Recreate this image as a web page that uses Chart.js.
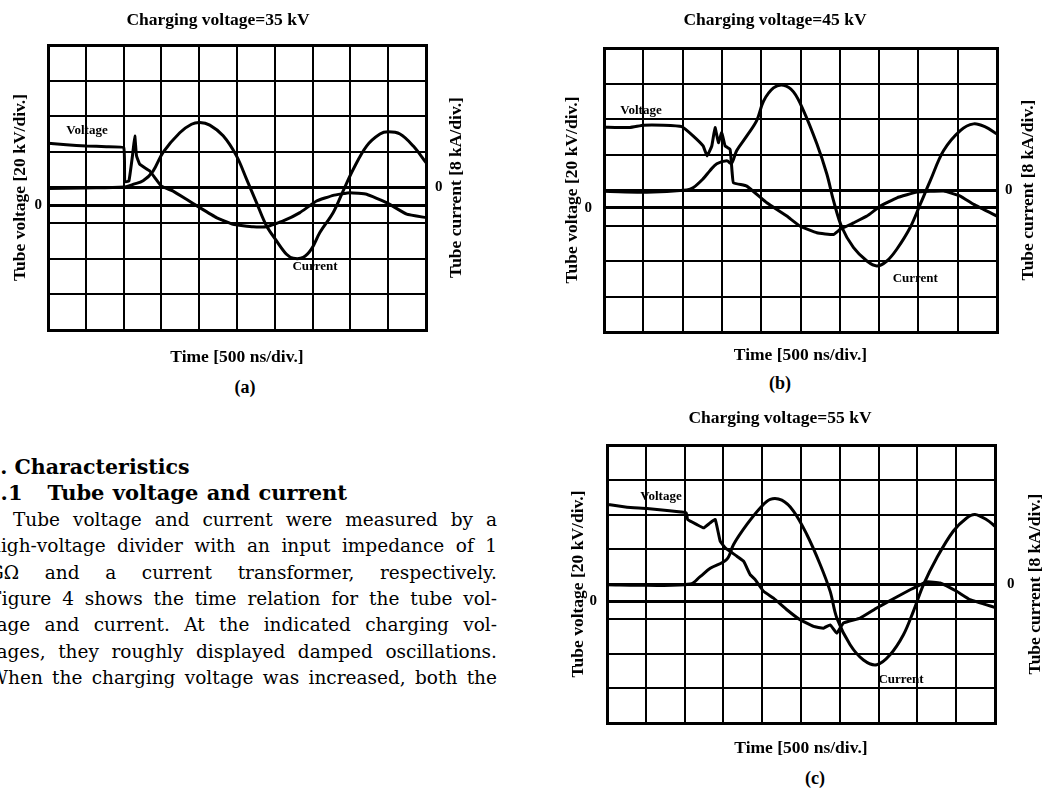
<!DOCTYPE html>
<html>
<head>
<meta charset="utf-8">
<script src="https://cdn.jsdelivr.net/npm/chart.js@4.4.1/dist/chart.umd.min.js"></script>
<style>
  html, body { margin: 0; padding: 0; background: #fff; }
  body { width: 1045px; height: 794px; position: relative; overflow: hidden; }
  canvas { position: absolute; }
  .cap { position: absolute; font: bold 18px 'Liberation Serif'; color: #000; transform: translate(-50%, -50%); }
  #text { position: absolute; left: -11px; top: 454px; width: 508px; font-family: 'DejaVu Serif'; font-size: 18.5px; line-height: 26.4px; color: #000; }
  #text div { text-align: justify; text-align-last: justify; }
  #text .h { font-weight: bold; font-size: 20.5px; text-align: left; text-align-last: left; margin-left: -3px; }
  #text .h2 { font-size: 21px; word-spacing: 1px; }
  #text .p { text-indent: 24px; }
</style>
</head>
<body>
<canvas id="chartA" width="496" height="372" style="left:-30px; top:0px;"></canvas>
<canvas id="chartB" width="524" height="370" style="left:513px; top:0px;"></canvas>
<canvas id="chartC" width="528" height="366" style="left:516px; top:400px;"></canvas>
<div class="cap" style="left:245px; top:387px;">(a)</div>
<div class="cap" style="left:780px; top:383px;">(b)</div>
<div class="cap" style="left:815px; top:778px;">(c)</div>

<div id="text">
  <div class="h">5. Characteristics</div>
  <div class="h h2">5.1&nbsp;&nbsp; Tube voltage and current</div>
  <div class="p">Tube voltage and current were measured by a</div>
  <div>high-voltage divider with an input impedance of 1</div>
  <div>GΩ and a current transformer, respectively.</div>
  <div>Figure 4 shows the time relation for the tube vol-</div>
  <div>tage and current. At the indicated charging vol-</div>
  <div>tages, they roughly displayed damped oscillations.</div>
  <div>When the charging voltage was increased, both the</div>
</div>

<script>
// time in ns (500 ns/div), voltage in kV (20 kV/div), current in kA (8 kA/div)
const voltTimeA = [0, 243, 508, 772, 1002, 1015, 1070, 1117, 1148, 1170, 1214, 1346, 1500, 1655, 1831, 2008, 2228, 2449, 2714, 2890, 3111, 3332, 3552, 3773, 3994, 4214, 4479, 4744, 5000];
const voltA = [34.8, 34.0, 33.3, 32.9, 32.3, 13.3, 13.6, 27.7, 38.9, 28.0, 23.0, 19.3, 10.8, 8.0, 3.4, -1.3, -6.9, -10.7, -12.1, -12.0, -8.8, -4.1, 2.4, 5.6, 7.1, 6.2, 1.5, -5.0, -6.9];
const currTimeA = [0, 463, 1015, 1125, 1258, 1390, 1522, 1743, 1898, 2008, 2140, 2317, 2493, 2626, 2758, 2890, 3023, 3155, 3244, 3376, 3486, 3596, 3773, 3906, 4038, 4214, 4391, 4501, 4656, 4832, 5000];
const currA = [-0.2, -0.1, 0.1, 0.7, 1.5, 3.7, 7.9, 12.3, 14.2, 14.6, 14.0, 11.6, 7.1, 1.9, -3.4, -8.6, -12.0, -15.0, -15.9, -15.7, -13.8, -10.1, -5.6, -0.7, 4.1, 9.3, 12.0, 12.5, 12.0, 9.3, 5.6];

const voltTimeB = [0, 331, 501, 756, 989, 1133, 1261, 1311, 1371, 1413, 1456, 1498, 1541, 1604, 1630, 1647, 1817, 2071, 2326, 2496, 2708, 2920, 3005, 3175, 3345, 3514, 3727, 3981, 4321, 4533, 4703, 5000];
const voltB = [45.4, 45.2, 46.5, 46.5, 45.7, 40.5, 34.8, 29.2, 34.8, 45.2, 36.7, 42.4, 34.8, 32.9, 20.0, 14.1, 12.2, 2.8, -4.7, -10.4, -14.1, -15.1, -12.2, -8.5, -4.7, 0.9, 5.6, 8.8, 9.4, 6.6, 1.9, -4.7];
const currTimeB = [0, 543, 1053, 1133, 1260, 1350, 1435, 1562, 1620, 1689, 1817, 1944, 2029, 2156, 2284, 2411, 2538, 2708, 2835, 2920, 3026, 3175, 3345, 3472, 3599, 3727, 3897, 4024, 4151, 4321, 4533, 4703, 4851, 5000];
const currB = [-0.3, -0.5, 0, 0.5, 2.5, 4.4, 5.9, 6.6, 6.0, 8.9, 12.2, 15.7, 20.0, 23.0, 23.6, 22.1, 17.9, 10.4, 3.6, -2.4, -8.4, -13.0, -16.0, -17.1, -16.0, -13.3, -8.4, -3.2, 2.1, 8.9, 13.4, 14.9, 14.2, 12.6];

const voltTimeC = [0, 258, 515, 773, 1021, 1039, 1159, 1245, 1330, 1395, 1459, 1524, 1674, 1760, 1845, 1910, 2017, 2146, 2318, 2489, 2661, 2790, 2876, 2961, 3047, 3262, 3476, 3691, 3906, 4120, 4292, 4506, 4678, 5000];
const voltC = [55.8, 54.2, 53.5, 52.3, 51.0, 47.1, 44.2, 42.3, 45.2, 47.1, 34.6, 30.8, 26.0, 23.1, 15.4, 12.5, 5.8, 1.9, -4.8, -10.6, -14.4, -15.4, -13.5, -18.3, -12.5, -9.6, -3.8, 1.5, 6.7, 11.2, 10.6, 5.8, 1.0, -3.5];
const currTimeC = [0, 472, 1073, 1200, 1330, 1545, 1631, 1803, 1974, 2103, 2253, 2403, 2575, 2747, 2876, 2961, 3133, 3305, 3476, 3648, 3820, 3948, 4077, 4249, 4464, 4635, 4742, 4893, 5000];
const currC = [-0.2, -0.3, 0, 1.7, 3.6, 5.7, 9.1, 13.7, 17.5, 19.5, 19.3, 16.8, 11.4, 4.5, -1.7, -7.8, -14.0, -17.5, -18.6, -16.3, -11.7, -6.3, -0.2, 6.0, 12.2, 15.2, 16.0, 14.8, 13.3];

const chargeTitles = ['Charging voltage=35 kV', 'Charging voltage=45 kV', 'Charging voltage=55 kV'];
const timeTitle = 'Time [500 ns/div.]';
const voltTitle = 'Tube voltage [20 kV/div.]';
const currTitle = 'Tube current [8 kA/div.]';
const timeRange = [0, 5000];
const voltRange = [-70, 90];
const currRange = [-32, 32];

const serif = 'Liberation Serif';

function pairs(xs, ys) {
    return xs.map((x, i) => ({x: x, y: ys[i]}));
}

// right axis title reads bottom-to-top like the left one
const rightTitle = {
    id: 'rightTitle',
    afterDraw(chart, args, opts) {
        const ctx = chart.ctx;
        const area = chart.chartArea;
        const sc = chart.scales.yI;
        ctx.save();
        ctx.translate(sc.right - opts.offset, (area.top + area.bottom) / 2);
        ctx.rotate(-Math.PI / 2);
        ctx.font = 'bold 17.5px "' + serif + '"';
        ctx.fillStyle = '#000';
        ctx.textAlign = 'center';
        ctx.textBaseline = 'middle';
        ctx.fillText(opts.text, 0, 0);
        ctx.restore();
    }
};

// "Voltage" / "Current" tags next to the traces
const traceTags = {
    id: 'traceTags',
    afterDatasetsDraw(chart, args, opts) {
        const ctx = chart.ctx;
        const sx = chart.scales.x, sy = chart.scales.yI;
        ctx.save();
        ctx.font = 'bold 13px "' + serif + '"';
        ctx.fillStyle = '#000';
        ctx.textAlign = 'center';
        ctx.textBaseline = 'middle';
        opts.items.forEach(it => {
            ctx.fillText(it.text, sx.getPixelForValue(it.t), sy.getPixelForValue(it.i));
        });
        ctx.restore();
    }
};

function makeChart(id, p) {
    const edge = v => (v === timeRange[0] || v === timeRange[1]) ? 3 : 2;
    new Chart(document.getElementById(id), {
        type: 'line',
        data: {
            datasets: [{
                label: 'Voltage',
                data: pairs(p.vt, p.v),
                yAxisID: 'yV',
                borderColor: '#000',
                borderWidth: 3,
                pointRadius: 0,
                tension: 0.1
            }, {
                label: 'Current',
                data: pairs(p.it, p.i),
                yAxisID: 'yI',
                borderColor: '#000',
                borderWidth: 3,
                pointRadius: 0,
                tension: 0.35
            }]
        },
        options: {
            responsive: false,
            animation: false,
            devicePixelRatio: 1,
            layout: {padding: 0},
            plugins: {
                legend: {display: false},
                tooltip: {enabled: false},
                title: {
                    display: true,
                    text: p.title,
                    color: '#000',
                    font: {family: serif, size: 17.5, weight: 'bold'},
                    padding: {top: p.tTop, bottom: p.tBot}
                },
                rightTitle: {text: currTitle, offset: p.rOff},
                traceTags: {items: p.tags}
            },
            scales: {
                x: {
                    type: 'linear',
                    min: timeRange[0], max: timeRange[1],
                    ticks: {stepSize: 500, autoSkip: false, callback: () => ''},
                    grid: {color: '#000', lineWidth: ctx => edge(ctx.tick.value), drawTicks: false},
                    border: {color: '#000', width: 3},
                    title: {
                        display: true, text: timeTitle, color: '#000',
                        font: {family: serif, size: 17.5, weight: 'bold'},
                        padding: {top: 0, bottom: p.xPad}
                    },
                    afterFit: s => { s.height = p.xH; }
                },
                yV: {
                    position: 'left',
                    min: voltRange[0], max: voltRange[1],
                    afterBuildTicks: s => { s.ticks = [{value: 0}]; },
                    ticks: {
                        callback: v => v === 0 ? '0' : '',
                        padding: p.lPad, color: '#000',
                        font: {family: serif, size: 15, weight: 'bold'}
                    },
                    grid: {color: '#000', lineWidth: 3, drawTicks: false},
                    border: {color: '#000', width: 3},
                    title: {
                        display: true, text: voltTitle, color: '#000',
                        font: {family: serif, size: 17.5, weight: 'bold'},
                        padding: {top: p.lTitle, bottom: 0}
                    },
                    afterFit: s => { s.width = p.lW; }
                },
                yI: {
                    position: 'right',
                    min: currRange[0], max: currRange[1],
                    ticks: {
                        stepSize: 8, autoSkip: false,
                        callback: v => v === 0 ? '0' : '',
                        padding: p.rPad, color: '#000',
                        font: {family: serif, size: 15, weight: 'bold'}
                    },
                    grid: {
                        color: '#000', drawTicks: false,
                        lineWidth: ctx => (ctx.tick.value === 0 || Math.abs(ctx.tick.value) === currRange[1]) ? 3 : 2
                    },
                    border: {color: '#000', width: 3},
                    afterFit: s => { s.width = p.rW; }
                }
            }
        },
        plugins: [rightTitle, traceTags]
    });
}

makeChart('chartA', {
    title: chargeTitles[0], vt: voltTimeA, v: voltA, it: currTimeA, i: currA,
    tTop: 9.5, tBot: 14.5, xH: 42, xPad: 4.5, lW: 78, lPad: 6, lTitle: 39.5, rW: 40, rPad: 9, rOff: 10,
    tags: [{text: 'Voltage', t: 516, i: 12.7}, {text: 'Current', t: 3532, i: -17.7}]
});
makeChart('chartB', {
    title: chargeTitles[1], vt: voltTimeB, v: voltB, it: currTimeB, i: currB,
    tTop: 9.5, tBot: 17.5, xH: 38, xPad: 4.5, lW: 91, lPad: 12, lTitle: 48.5, rW: 40, rPad: 8, rOff: 9,
    tags: [{text: 'Voltage', t: 471, i: 17.9}, {text: 'Current', t: 3960, i: -20.0}]
});
makeChart('chartC', {
    title: chargeTitles[2], vt: voltTimeC, v: voltC, it: currTimeC, i: currC,
    tTop: 7.5, tBot: 16.5, xH: 43, xPad: 7.5, lW: 91, lPad: 10, lTitle: 51.5, rW: 49, rPad: 12, rOff: 9,
    tags: [{text: 'Voltage', t: 696, i: 20.2}, {text: 'Current', t: 3789, i: -22.0}]
});
</script>
</body>
</html>
